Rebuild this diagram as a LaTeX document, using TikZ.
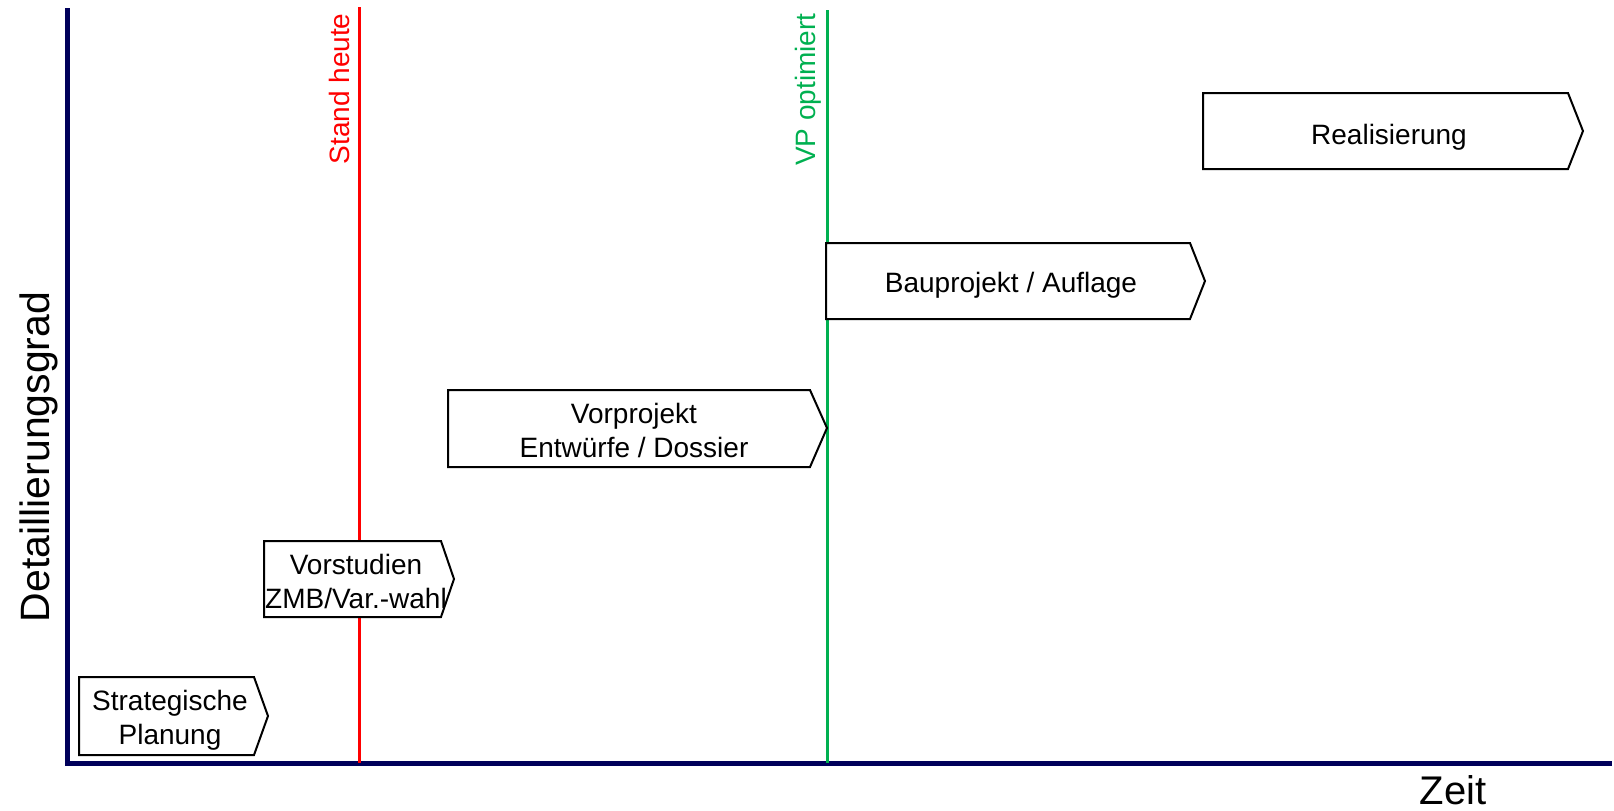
\documentclass[tikz,border=0pt]{standalone}
\usepackage{fontspec}
\setmainfont{Liberation Sans}
\definecolor{axisblue}{RGB}{0,0,90}
\definecolor{vpgreen}{RGB}{0,176,80}
\begin{document}
\begin{tikzpicture}[x=0.5pt,y=-0.5pt,
    phasebox/.style={draw=black,line width=1pt,fill=white,line join=miter},
    phasetxt/.style={align=center,inner sep=0pt,font=\fontsize{14}{17}\selectfont}]
\useasboundingbox (0,0) rectangle (1614,810);
% axes
\coordinate (O) at (67,763);
\coordinate (ytop) at (67,8);
\coordinate (xend) at (1612,763);
\draw[axisblue,line width=2.5pt] (ytop) -- (O) -- (xend);
\node[rotate=90,anchor=base,inner sep=0pt,font=\fontsize{20.5}{24}\selectfont] (ylab) at (49,457) {Detaillierungsgrad};
\node[anchor=base,inner sep=0pt,font=\fontsize{20}{24}\selectfont] (xlab) at (1453,804) {Zeit};
% milestones
\coordinate (heutetop) at (359,7);
\coordinate (heutebot) at (359,763);
\coordinate (vptop) at (827,10);
\coordinate (vpbot) at (827,763);
\draw[red,line width=1.5pt] (heutetop) -- (heutebot);
\draw[vpgreen,line width=1.5pt] (vptop) -- (vpbot);
\node[red,rotate=90,anchor=east,inner sep=0pt,font=\fontsize{14}{17}\selectfont] (heute) at (339,13) {Stand heute};
\node[vpgreen,rotate=90,anchor=east,inner sep=0pt,font=\fontsize{14}{17}\selectfont] (vpopt) at (808,13) {VP optimiert};
% phases
\draw[phasebox] (79,677) -- (254,677) -- (268,716) -- (254,755) -- (79,755) -- cycle;
\node[phasetxt] (strat) at (170,720) {Strategische\\Planung};
\draw[phasebox] (264,541) -- (441,541) -- (454,579) -- (441,617) -- (264,617) -- cycle;
\node[phasetxt] (vorstud) at (356,581) {Vorstudien\\ZMB/Var.-wahl};
\draw[phasebox] (448,390) -- (810,390) -- (827,428) -- (810,467) -- (448,467) -- cycle;
\node[phasetxt] (vorproj) at (634,430) {Vorprojekt\\Entwürfe / Dossier};
\draw[phasebox] (826,243) -- (1190,243) -- (1205,281) -- (1190,319) -- (826,319) -- cycle;
\node[phasetxt] (bauproj) at (1011,285) {Bauprojekt / Auflage};
\draw[phasebox] (1203,93) -- (1568,93) -- (1583,131) -- (1568,169) -- (1203,169) -- cycle;
\node[phasetxt] (real) at (1389,137) {Realisierung};
\end{tikzpicture}
\end{document}
